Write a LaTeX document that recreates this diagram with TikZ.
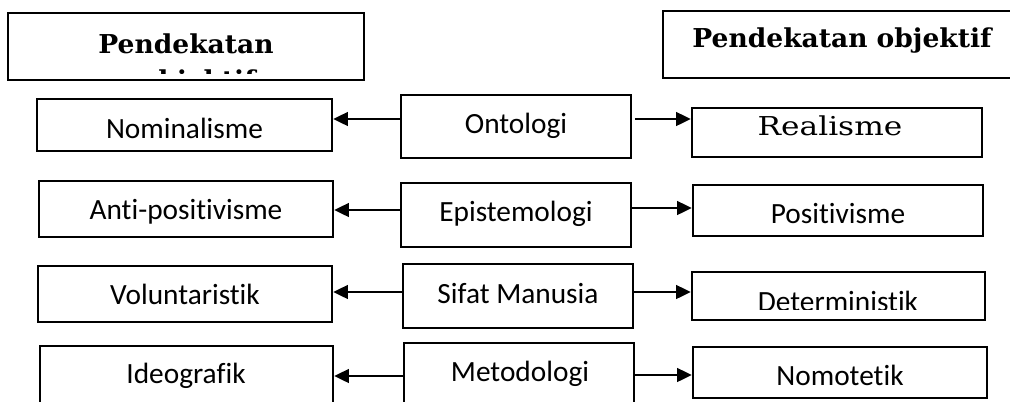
\documentclass[tikz,border=0pt]{standalone}
\usepackage{fontspec}
\setmainfont{Carlito}[RawFeature={-liga}]
\newfontfamily\titlefont{DejaVu Serif}[FakeStretch=1.02]
\newfontfamily\realfont{DejaVu Serif}[FakeStretch=1.2]
\usetikzlibrary{arrows.meta,fit}
\begin{document}
\begin{tikzpicture}[x=0.75pt,y=-0.75pt,
  box/.style={draw, line width=1.9pt, inner sep=0pt},
  lbl/.style={anchor=base, inner sep=0pt, font=\fontsize{22}{26}\selectfont},
  ttl/.style={anchor=base, inner sep=0pt, font=\titlefont\bfseries\fontsize{19.5}{23}\selectfont},
  arr/.style={line width=1pt, -{Triangle[length=11pt,width=10.5pt]}}]
\useasboundingbox (0,0) rectangle (1010,401);
\clip (0,0) rectangle (1010,401);
% boxes
\node[box, fit={(8,13) (364,80)}] (tl) {};
\node[box, fit={(663,11) (1030,78)}] (tr) {};
\node[box, fit={(37,99) (332,151)}] (nom) {};
\node[box, fit={(39,181) (333,237)}] (anti) {};
\node[box, fit={(38,266) (332,322)}] (vol) {};
\node[box, fit={(40,346) (333,430)}] (ideo) {};
\node[box, fit={(401,95) (631,158)}] (onto) {};
\node[box, fit={(401,183) (631,247)}] (epis) {};
\node[box, fit={(403,264) (633,328)}] (sifat) {};
\node[box, fit={(404,343) (634,430)}] (meto) {};
\node[box, fit={(692,108) (982,157)}] (real) {};
\node[box, fit={(693,185) (983,236)}] (posi) {};
\node[box, fit={(692,272) (985,320)}] (det) {};
\node[box, fit={(693,347) (987,398)}] (nomo) {};
% titles
\node[ttl] (tlt1) at (186,53) {Pendekatan};
\begin{scope}
\clip (0,0) rectangle (1010,73);
\node[ttl] (tlt2) at (190,89) {subjektif};
\end{scope}
\node[ttl] (trt) at (842,47) {Pendekatan objektif};
% labels
\node[lbl] (tnom) at (184.5,138) {Nominalisme};
\node[lbl] (tanti) at (186,219) {Anti-positivisme};
\node[lbl] (tvol) at (185,304) {Voluntaristik};
\node[lbl] (tideo) at (186,383) {Ideografik};
\node[lbl] (tonto) at (516,133) {Ontologi};
\node[lbl] (tepis) at (516,221) {Epistemologi};
\node[lbl] (tsifat) at (518,303) {Sifat Manusia};
\node[lbl] (tmeto) at (520,381) {Metodologi};
\node[lbl, font=\realfont\fontsize{19.5}{23}\selectfont] (treal) at (830,135) {Realisme};
\node[lbl] (tposi) at (838,223) {Positivisme};
\begin{scope}
\clip (0,0) rectangle (1010,309.5);
\node[lbl] (tdet) at (838,311) {Deterministik};
\end{scope}
\node[lbl] (tnomo) at (840,385) {Nomotetik};
% connectors
\draw[arr] (onto.west |- 0,119) -- (nom.east |- 0,119);
\draw[arr] (epis.west |- 0,210) -- (anti.east |- 0,210);
\draw[arr] (sifat.west |- 0,292) -- (vol.east |- 0,292);
\draw[arr] (meto.west |- 0,376) -- (ideo.east |- 0,376);
\draw[arr] ([xshift=2pt]onto.east |- 0,119) -- (real.west |- 0,119);
\draw[arr] (epis.east |- 0,208) -- (posi.west |- 0,208);
\draw[arr] (sifat.east |- 0,292) -- (det.west |- 0,292);
\draw[arr] (meto.east |- 0,375) -- (nomo.west |- 0,375);
\end{tikzpicture}
\end{document}
